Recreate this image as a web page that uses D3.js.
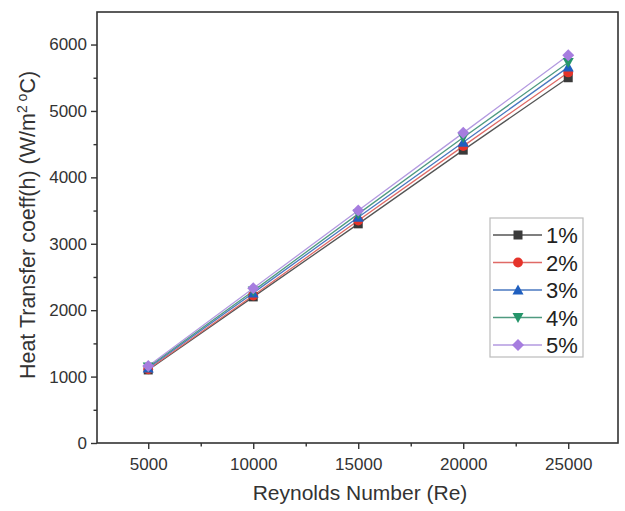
<!DOCTYPE html>
<html><head><meta charset="utf-8">
<script src="https://cdn.jsdelivr.net/npm/d3@7"></script>
<style>body{margin:0;background:#fff}svg{display:block;font-family:Arial,"Liberation Sans",sans-serif}</style>
</head><body><svg id="c" width="625" height="511"></svg>
<script>
const reynolds = [5000, 10000, 15000, 20000, 25000];
const seriesNames = ["1%", "2%", "3%", "4%", "5%"];
const h1 = [1100, 2200, 3300, 4410, 5500];
const h2 = [1110, 2220, 3350, 4470, 5580];
const h3 = [1130, 2260, 3400, 4530, 5660];
const h4 = [1145, 2290, 3450, 4600, 5730];
const h5 = [1160, 2330, 3500, 4670, 5840];
const xTicks = [5000, 10000, 15000, 20000, 25000];
const yTicks = [0, 1000, 2000, 3000, 4000, 5000, 6000];
const colors = ["#3a3a3a", "#e5332a", "#1f5fbf", "#25956a", "#a67ddf"];
const lineColors = ["#555", "#e06a66", "#4a78c0", "#4f9a80", "#b39ae0"];
const shapes = ["square", "circle", "tri-up", "tri-down", "diamond"];
const allSeries = [h1, h2, h3, h4, h5];

const svg = d3.select("#c");
const L = 97, R = 618, T = 12, B = 443;
const x = d3.scaleLinear().domain([2560, 27370]).range([L, R]);
const y = d3.scaleLinear().domain([0, 6490]).range([B, T]);

function symPath(s) {
  switch (s) {
    case "square": return "M-4.5,-4.5H4.5V4.5H-4.5Z";
    case "circle": return d3.symbol(d3.symbolCircle, 75)();
    case "tri-up": return "M0,-5.5L5.5,4.5H-5.5Z";
    case "tri-down": return "M0,5.5L5.5,-4.5H-5.5Z";
    case "diamond": return "M0,-6L6,0L0,6L-6,0Z";
  }
}

// frame
svg.append("rect").attr("x", L).attr("y", T).attr("width", R - L).attr("height", B - T)
  .attr("fill", "none").attr("stroke", "#333").attr("stroke-width", 1.6);

// x axis
const xa = svg.append("g").attr("transform", `translate(0,${B})`)
  .call(d3.axisBottom(x).tickValues(xTicks).tickSize(6).tickPadding(9).tickFormat(d3.format("d")));
xa.select(".domain").remove();
xa.selectAll("line").attr("stroke", "#333").attr("stroke-width", 1.4);
xa.selectAll("text").attr("font-size", 17).attr("fill", "#333");
const xm = svg.append("g").attr("transform", `translate(0,${B})`)
  .call(d3.axisBottom(x).tickValues([7500, 12500, 17500, 22500]).tickSize(3.5).tickFormat(""));
xm.select(".domain").remove();
xm.selectAll("line").attr("stroke", "#333").attr("stroke-width", 1.4);

// y axis
const ya = svg.append("g").attr("transform", `translate(${L},0)`)
  .call(d3.axisLeft(y).tickValues(yTicks).tickSize(6).tickPadding(4).tickFormat(d3.format("d")));
ya.select(".domain").remove();
ya.selectAll("line").attr("stroke", "#333").attr("stroke-width", 1.4);
ya.selectAll("text").attr("font-size", 17).attr("fill", "#333");
const ym = svg.append("g").attr("transform", `translate(${L},0)`)
  .call(d3.axisLeft(y).tickValues([500, 1500, 2500, 3500, 4500, 5500]).tickSize(3.5).tickFormat(""));
ym.select(".domain").remove();
ym.selectAll("line").attr("stroke", "#333").attr("stroke-width", 1.4);

// lines & markers
const line = d3.line().x((d, i) => x(reynolds[i])).y(d => y(d));
allSeries.forEach((s, k) => {
  svg.append("path").datum(s).attr("d", line).attr("fill", "none")
    .attr("stroke", lineColors[k]).attr("stroke-width", 1.3);
});
allSeries.forEach((s, k) => {
  svg.selectAll(null).data(s).enter().append("path")
    .attr("d", symPath(shapes[k]))
    .attr("transform", (d, i) => `translate(${x(reynolds[i])},${y(d)})`)
    .attr("fill", colors[k]);
});

// legend
const lg = svg.append("g");
lg.append("rect").attr("x", 490).attr("y", 218).attr("width", 93).attr("height", 139)
  .attr("fill", "#fff").attr("stroke", "#bbb").attr("stroke-width", 1.2);
seriesNames.forEach((n, k) => {
  const yy = 235 + k * 27.5;
  lg.append("line").attr("x1", 493).attr("x2", 542).attr("y1", yy).attr("y2", yy)
    .attr("stroke", lineColors[k]).attr("stroke-width", 1.5);
  lg.append("path").attr("d", symPath(shapes[k]))
    .attr("transform", `translate(518,${yy})`)
    .attr("fill", colors[k]);
  lg.append("text").attr("x", 546).attr("y", yy + 8).attr("font-size", 22).attr("fill", "#222").text(n);
});

// axis titles
svg.append("text").attr("x", 360).attr("y", 500).attr("text-anchor", "middle")
  .attr("font-size", 21).attr("fill", "#333").text("Reynolds Number (Re)");
const yl = svg.append("text").attr("transform", `translate(35,225) rotate(-90)`)
  .attr("text-anchor", "middle").attr("font-size", 21.5).attr("fill", "#333");
yl.append("tspan").text("Heat Transfer coeff(h) (W/m");
yl.append("tspan").attr("dy", -8).attr("font-size", 14).text("2 o");
yl.append("tspan").attr("dy", 8).text("C)");
</script></body></html>
